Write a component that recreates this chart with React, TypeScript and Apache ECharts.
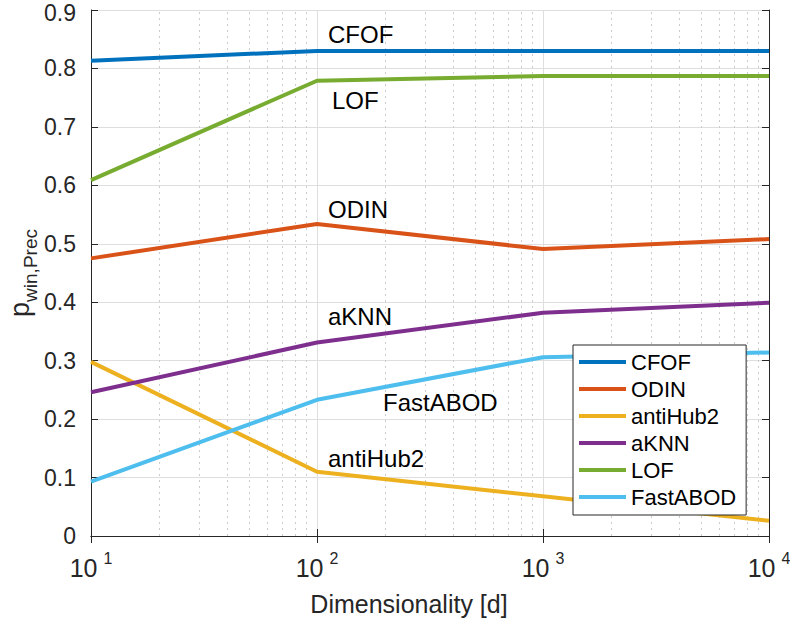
import React, { useEffect, useRef } from "react";
import * as echarts from "echarts";

const dims = [10, 100, 1000, 10000];
const seriesNames = ["CFOF", "ODIN", "antiHub2", "aKNN", "LOF", "FastABOD"];
const cfof = [0.813, 0.83, 0.83, 0.83];
const odin = [0.475, 0.534, 0.491, 0.508];
const antiHub2 = [0.298, 0.11, 0.068, 0.026];
const aknn = [0.246, 0.331, 0.382, 0.399];
const lof = [0.609, 0.779, 0.787, 0.787];
const fastAbod = [0.093, 0.233, 0.306, 0.314];
const colors = ["#0072BD", "#D95319", "#EDB120", "#7E2F8E", "#77AC30", "#4DBEEE"];
const minorMultipliers = [2, 3, 4, 5, 6, 7, 8, 9];
const decades = [10, 100, 1000];
const yMax = 0.9;

const annotations = [
  { text: "CFOF", x: 328, y: 34 },
  { text: "LOF", x: 332, y: 100 },
  { text: "ODIN", x: 328, y: 209 },
  { text: "aKNN", x: 328, y: 316 },
  { text: "FastABOD", x: 383, y: 402 },
  { text: "antiHub2", x: 328, y: 458 },
];

const FONT = "'Liberation Sans', Arial, Helvetica, sans-serif";
const INK = "#262626";

export default function App() {
  const ref = useRef<HTMLDivElement>(null);
  useEffect(() => {
    if (!ref.current) return;
    const chart = echarts.init(ref.current, undefined, { renderer: "svg" });
    const values = [cfof, odin, antiHub2, aknn, lof, fastAbod];
    const minorX: number[] = [];
    decades.forEach((d) => minorMultipliers.forEach((m) => minorX.push(d * m)));

    const lineSeries = seriesNames.map((name, i) => ({
      name,
      type: "line",
      data: dims.map((d, j) => [d, values[i][j]]),
      showSymbol: false,
      symbol: "none",
      color: colors[i],
      lineStyle: { color: colors[i], width: 4 },
      z: 5,
    }));

    const option: any = {
      animation: false,
      textStyle: { fontFamily: FONT },
      grid: { left: 91, right: 21, top: 10, bottom: 83, containLabel: false, outerBoundsMode: "none" },
      legend: {
        data: seriesNames,
        orient: "vertical",
        left: 573,
        top: 345,
        icon: "rect",
        itemWidth: 47,
        itemHeight: 4,
        itemGap: 5,
        padding: [6, 10, 7, 6],
        backgroundColor: "#fff",
        borderColor: "#262626",
        borderWidth: 1,
        borderRadius: 0,
        textStyle: { fontSize: 22, lineHeight: 22, color: "#000", fontFamily: FONT },
        selectedMode: false,
        z: 10,
      },
      xAxis: [
        {
          type: "log",
          logBase: 10,
          min: 10,
          max: 10000,
          axisLine: { show: true, lineStyle: { color: INK, width: 1 } },
          axisTick: { show: true, inside: true, length: 7, lineStyle: { color: INK } },
          splitLine: { show: true, lineStyle: { color: "#dedede", width: 1 } },
          axisLabel: {
            margin: 14,
            formatter: (v: number) => `{b|10}{e|${Math.round(Math.log10(v))}}`,
            rich: {
              b: { fontSize: 25, color: INK, fontFamily: FONT, verticalAlign: "bottom" },
              e: { fontSize: 16, color: INK, fontFamily: FONT, padding: [0, 0, 14, 6], verticalAlign: "bottom" },
            },
          },
        },
        {
          type: "log",
          logBase: 10,
          min: 10,
          max: 10000,
          position: "top",
          axisLine: { show: true, lineStyle: { color: INK, width: 1 } },
          axisTick: { show: true, inside: true, length: 7, lineStyle: { color: INK } },
          axisLabel: { show: false },
          splitLine: { show: false },
        },
      ],
      yAxis: [
        {
          type: "value",
          min: 0,
          max: yMax,
          interval: 0.1,
          axisLine: { show: true, lineStyle: { color: INK, width: 1 } },
          axisTick: { show: true, inside: true, length: 7, lineStyle: { color: INK } },
          splitLine: { show: true, lineStyle: { color: "#dedede", width: 1 } },
          axisLabel: {
            margin: 15,
            fontSize: 23,
            lineHeight: 20,
            color: INK,
            fontFamily: FONT,
            formatter: (v: number) => {
              if (Math.abs(v) < 1e-9) return "0";
              const s = String(Number(v.toFixed(1)));
              return Math.abs(v - yMax) < 1e-9 ? `{t|${s}}` : s;
            },
            rich: {
              t: { fontSize: 23, lineHeight: 20, color: INK, fontFamily: FONT, padding: [6, 0, 0, 0] },
            },
          },
          name: "{p|p}{s|win,Prec}",
          nameLocation: "middle",
          nameRotate: 90,
          nameGap: 51,
          nameMoveOverlap: false,
          nameTextStyle: {
            rich: {
              p: { fontSize: 27, color: INK, fontFamily: FONT, padding: [0, 0, 7, 0], verticalAlign: "bottom" },
              s: { fontSize: 19, color: INK, fontFamily: FONT, verticalAlign: "bottom" },
            },
          },
        },
        {
          type: "value",
          min: 0,
          max: yMax,
          interval: 0.1,
          position: "right",
          axisLine: { show: true, lineStyle: { color: INK, width: 1 } },
          axisTick: { show: true, inside: true, length: 7, lineStyle: { color: INK } },
          axisLabel: { show: false },
          splitLine: { show: false },
        },
      ],
      series: [
        {
          type: "line",
          data: [],
          z: 1,
          silent: true,
          markLine: {
            silent: true,
            symbol: "none",
            label: { show: false },
            lineStyle: { color: "#cccccc", type: [2, 4], width: 1 },
            data: minorX.map((x) => ({ xAxis: x })),
          },
        },
        ...lineSeries,
      ],
      graphic: [
        ...annotations.map((a) => ({
          type: "text",
          x: a.x,
          y: a.y,
          z: 20,
          style: {
            text: a.text,
            fontSize: 24,
            fontFamily: FONT,
            fill: "#000",
            verticalAlign: "middle",
            align: "left",
          },
        })),
        {
          type: "text",
          x: 409,
          y: 604,
          z: 20,
          style: {
            text: "Dimensionality [d]",
            fontSize: 25,
            fontFamily: FONT,
            fill: INK,
            align: "center",
            verticalAlign: "middle",
          },
        },
      ],
    };
    chart.setOption(option);
    return () => chart.dispose();
  }, []);
  return (
    <div
      ref={ref}
      style={{ position: "fixed", left: 0, top: 0, width: 790, height: 619, background: "#fff" }}
    />
  );
}
